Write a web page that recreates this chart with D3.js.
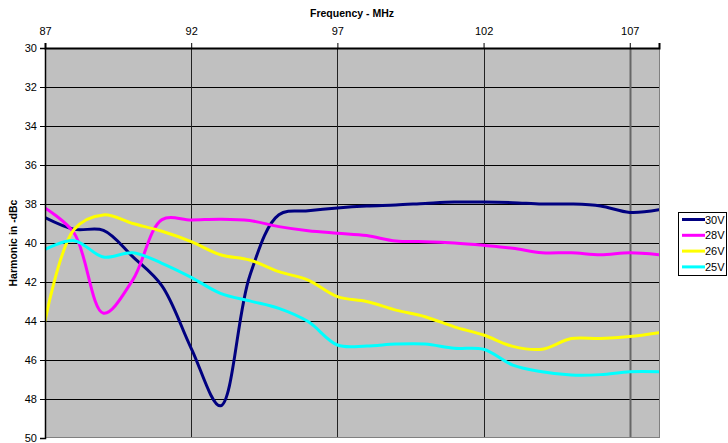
<!DOCTYPE html>
<html>
<head>
<meta charset="utf-8">
<script src="https://cdn.jsdelivr.net/npm/d3@7"></script>
<style>
  html, body { margin: 0; padding: 0; background: #ffffff; }
  svg { display: block; font-family: "Liberation Sans", Arial, sans-serif; }
</style>
</head>
<body>
<svg id="chart" width="728" height="443"></svg>
<script>
// Frequency points (MHz)
const freqs = [87, 88, 89, 90, 91, 92, 93, 94, 95, 96, 97, 98, 99, 100, 101, 102, 103, 104, 105, 106, 107, 108];

// Harmonic level in -dBc for each supply voltage
const v30 = [38.7, 39.3, 39.35, 40.7, 42.2, 45.4, 48.35, 41.7, 38.55, 38.35, 38.2, 38.1, 38.05, 37.97, 37.9, 37.9, 37.93, 38.0, 38.0, 38.1, 38.43, 38.3];
const v28 = [38.2, 39.5, 43.6, 41.9, 38.8, 38.82, 38.78, 38.85, 39.16, 39.37, 39.5, 39.62, 39.9, 39.93, 40.0, 40.12, 40.27, 40.5, 40.5, 40.6, 40.5, 40.6];
const v26 = [44.0, 39.3, 38.56, 39.0, 39.4, 39.93, 40.6, 40.87, 41.47, 41.9, 42.75, 43.0, 43.44, 43.78, 44.3, 44.72, 45.3, 45.45, 44.9, 44.9, 44.8, 44.6];
const v25 = [40.33, 39.88, 40.72, 40.5, 41.04, 41.76, 42.58, 42.97, 43.35, 44.03, 45.23, 45.28, 45.18, 45.18, 45.4, 45.45, 46.26, 46.6, 46.77, 46.75, 46.6, 46.6];

const seriesNames = ["30V", "28V", "26V", "25V"];
const seriesColors = ["#000080", "#FF00FF", "#FFFF00", "#00FFFF"];
const seriesValues = [v30, v28, v26, v25];

const xTicks = [87, 92, 97, 102, 107];
const yTicks = [30, 32, 34, 36, 38, 40, 42, 44, 46, 48, 50];

const xTitle = "Frequency - MHz";
const yTitle = "Harmonic in -dBc";

const svg = d3.select("#chart");
const plot = { left: 45, right: 659, top: 48, bottom: 438 };

const x = d3.scaleLinear().domain([87, 108]).range([plot.left, plot.right]);
const y = d3.scaleLinear().domain([30, 50]).range([plot.top, plot.bottom]);

// plot area background
svg.append("rect")
  .attr("x", plot.left).attr("y", plot.top)
  .attr("width", plot.right - plot.left).attr("height", plot.bottom - plot.top)
  .attr("fill", "#C0C0C0");

// horizontal gridlines
svg.append("g").selectAll("line")
  .data(yTicks.filter(d => d !== 30 && d !== 50))
  .join("line")
  .attr("x1", plot.left).attr("x2", plot.right)
  .attr("y1", d => Math.round(y(d)) + 0.5).attr("y2", d => Math.round(y(d)) + 0.5)
  .attr("stroke", "#000").attr("stroke-width", 1);

// vertical gridlines
svg.append("g").selectAll("line")
  .data(xTicks.filter(d => d !== 87))
  .join("line")
  .attr("x1", d => Math.round(x(d)) + 0.5).attr("x2", d => Math.round(x(d)) + 0.5)
  .attr("y1", plot.top).attr("y2", plot.bottom)
  .attr("stroke", d => d === 107 ? "#666" : "#222")
  .attr("stroke-width", d => d === 107 ? 2 : 1);

// plot border (right and bottom in grey)
svg.append("line")
  .attr("x1", plot.right + 0.5).attr("x2", plot.right + 0.5)
  .attr("y1", plot.top).attr("y2", plot.bottom)
  .attr("stroke", "#808080").attr("stroke-width", 1);
svg.append("line")
  .attr("x1", plot.left).attr("x2", plot.right)
  .attr("y1", plot.bottom - 0.5).attr("y2", plot.bottom - 0.5)
  .attr("stroke", "#808080").attr("stroke-width", 1);

// data lines
const line = d3.line()
  .x((d, i) => x(freqs[i]))
  .y(d => y(d))
  .curve(d3.curveCatmullRom.alpha(0.5));

const clipId = "plotClip";
svg.append("clipPath").attr("id", clipId)
  .append("rect")
  .attr("x", plot.left).attr("y", plot.top)
  .attr("width", plot.right - plot.left).attr("height", plot.bottom - plot.top);

svg.append("g").attr("clip-path", `url(#${clipId})`)
  .selectAll("path")
  .data(seriesValues)
  .join("path")
  .attr("d", d => line(d))
  .attr("fill", "none")
  .attr("stroke", (d, i) => seriesColors[i])
  .attr("stroke-width", 3)
  .attr("stroke-linejoin", "round")
  .attr("stroke-linecap", "round");

// top axis
const xAxis = d3.axisTop(x).tickValues(xTicks).tickSize(5).tickPadding(8).tickFormat(d3.format("d"));
const gx = svg.append("g").attr("transform", `translate(0,${plot.top})`).call(xAxis);
gx.select(".domain").attr("stroke", "#000").attr("stroke-width", 2);
gx.selectAll(".tick line").attr("stroke", "#000");
gx.selectAll(".tick text").attr("font-size", 11).attr("fill", "#000")
  .attr("font-family", "Liberation Sans, Arial, sans-serif");

// left axis
const yAxis = d3.axisLeft(y).tickValues(yTicks).tickSize(5).tickPadding(3).tickFormat(d3.format("d"));
const gy = svg.append("g").attr("transform", `translate(${plot.left},0)`).call(yAxis);
gy.select(".domain").attr("stroke", "#000").attr("stroke-width", 1.5);
gy.selectAll(".tick line").attr("stroke", "#000");
gy.selectAll(".tick text").attr("font-size", 11).attr("fill", "#000")
  .attr("font-family", "Liberation Sans, Arial, sans-serif");

// axis titles
svg.append("text")
  .attr("x", 352).attr("y", 17)
  .attr("text-anchor", "middle")
  .attr("font-size", 10.5).attr("font-weight", "bold")
  .text(xTitle);

svg.append("text")
  .attr("transform", `translate(17,${(plot.top + plot.bottom) / 2}) rotate(-90)`)
  .attr("text-anchor", "middle")
  .attr("font-size", 10.5).attr("font-weight", "bold")
  .text(yTitle);

// legend
const legend = svg.append("g");
legend.append("rect")
  .attr("x", 678.5).attr("y", 212.5)
  .attr("width", 48).attr("height", 63)
  .attr("fill", "#fff").attr("stroke", "#000").attr("stroke-width", 1);

const items = legend.selectAll("g.item")
  .data(seriesNames)
  .join("g")
  .attr("class", "item")
  .attr("transform", (d, i) => `translate(0,${219.5 + i * 15.8})`);

items.append("line")
  .attr("x1", 682).attr("x2", 705)
  .attr("y1", 0).attr("y2", 0)
  .attr("stroke", (d, i) => seriesColors[i])
  .attr("stroke-width", 3);

items.append("text")
  .attr("x", 705).attr("y", 4)
  .attr("font-size", 11)
  .text(d => d);
</script>
</body>
</html>
